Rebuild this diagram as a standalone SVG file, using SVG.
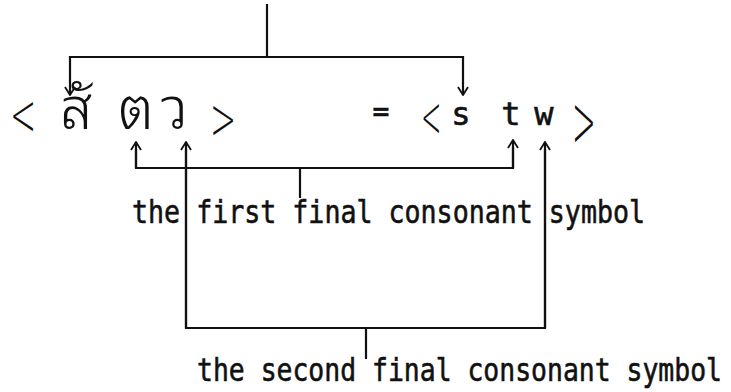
<svg xmlns="http://www.w3.org/2000/svg" width="731" height="392" viewBox="0 0 731 392">
<defs>
<marker id="ah" viewBox="0 0 12 12" refX="11" refY="6" markerWidth="12" markerHeight="12" markerUnits="userSpaceOnUse" orient="auto">
<polyline points="3,1 11,6 3,11" fill="none" stroke="#111" stroke-width="1.8"/>
</marker>
<style>
.ln{fill:none;stroke:#111;stroke-width:2.2;stroke-linecap:square}
.ar{fill:none;stroke:#111;stroke-width:2.2;marker-end:url(#ah)}
.mono{font-family:"DejaVu Sans Mono","Liberation Mono",monospace;fill:#111;stroke:#111;stroke-width:0.6}
.lab{font-size:32px}
.thai{font-family:"Noto Sans Thai Looped","Noto Sans Thai","Noto Serif Thai","Noto Sans",sans-serif;font-size:58px;font-weight:300;fill:#111}
.br{font-family:"DejaVu Sans",sans-serif;font-size:58px;font-weight:200;fill:#111}
</style>
</defs>
<rect width="731" height="392" fill="#fff"/>
<g id="connectors">
<path class="ln" d="M267,5 V57 M70,57 H463"/>
<path class="ar" d="M70,57 V95"/>
<path class="ar" d="M463,57 V95"/>
<path class="ln" d="M136,150 V168 H513 V148 M300,168 V197"/>
<path class="ar" d="M136,168 V142"/>
<path class="ar" d="M513,168 V140"/>
<path class="ln" d="M186,150 V328 H545 V150 M366,328 V358"/>
<path class="ar" d="M186,328 V142"/>
<path class="ar" d="M545,328 V142"/>
</g>
<g id="thai-word">
<text class="br" transform="translate(10,135) scale(0.54,1)">&lt;</text>
<text class="thai" x="60" y="129">สั</text>
<text class="thai" x="118" y="129" letter-spacing="8">ตว</text>
<text class="br" transform="translate(210,138.5) scale(0.54,1)">&gt;</text>
</g>
<g id="equals"><text class="mono" x="381" y="121" font-size="28" text-anchor="middle">=</text></g>
<g id="latin-word">
<text class="br" transform="translate(421,137) scale(0.42,1)">&lt;</text>
<text class="mono" x="461" y="125" font-size="32" text-anchor="middle">s</text>
<text class="mono" x="511" y="125" font-size="32" text-anchor="middle">t</text>
<text class="mono" x="544" y="125" font-size="32" text-anchor="middle">w</text>
<text class="br" transform="translate(572,146.5) scale(0.49,1.3)">&gt;</text>
</g>
<g id="label-first">
<text class="mono lab" x="132" y="223" textLength="513" lengthAdjust="spacingAndGlyphs">the first final consonant symbol</text>
</g>
<g id="label-second">
<text class="mono lab" x="197" y="381" textLength="525" lengthAdjust="spacingAndGlyphs">the second final consonant symbol</text>
</g>
</svg>
